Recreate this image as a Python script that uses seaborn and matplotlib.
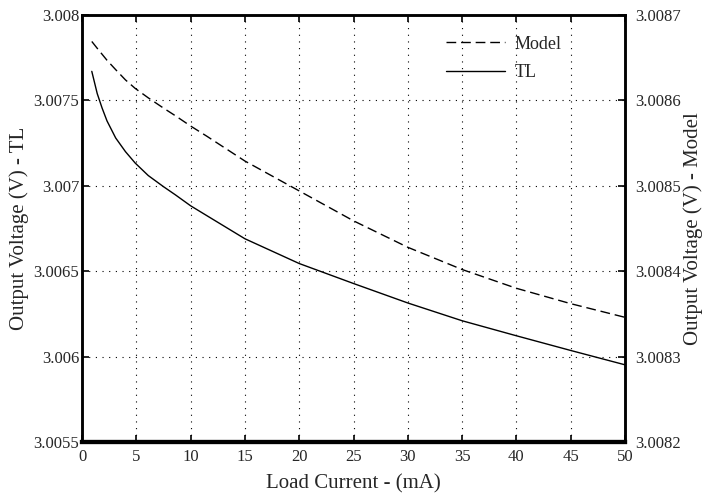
import numpy as np
import pandas as pd
import seaborn as sns
import matplotlib.pyplot as plt
import matplotlib.ticker as mticker

## data
load_current = [0.9, 1.4, 1.85, 2.3, 3.1, 4.0, 4.9, 6.1, 7.5, 8.6, 10, 11.5,
                15, 20, 25, 30, 35, 40, 45, 50]
v_tl = [3.00767, 3.00754, 3.007455, 3.00738, 3.00728, 3.0072, 3.007133, 3.00706,
        3.006995, 3.006947, 3.006883, 3.006825, 3.00669, 3.006545, 3.006428, 3.006314,
        3.00621, 3.006122, 3.006036, 3.005952]
v_model = [3.008669, 3.008661, 3.008654, 3.008647, 3.008636, 3.008624, 3.008614,
           3.008603, 3.008591, 3.008582, 3.00857, 3.008558, 3.008529, 3.008494,
           3.008459, 3.008428, 3.008402, 3.00838, 3.008362, 3.008346]

x_ticks = list(range(0, 51, 5))
left_ticks = [3.0055, 3.006, 3.0065, 3.007, 3.0075, 3.008]
right_ticks = [3.0082, 3.0083, 3.0084, 3.0085, 3.0086, 3.0087]

df = pd.DataFrame({"I": load_current, "TL": v_tl, "Model": v_model})

sns.set_style("ticks")
plt.rcParams["font.family"] = ["Liberation Serif", "DejaVu Serif"]
plt.rcParams["xtick.direction"] = "in"
plt.rcParams["ytick.direction"] = "in"

fig = plt.figure(figsize=(7.04, 4.98), dpi=100)
ax = fig.add_axes([0.1165, 0.1124, 0.7713, 0.8575])
ax2 = ax.twinx()

sns.lineplot(data=df, x="I", y="TL", ax=ax, color="black", lw=1.0, label="TL", legend=False)
sns.lineplot(data=df, x="I", y="Model", ax=ax2, color="black", lw=1.0, label="Model",
             legend=False)
ax2.lines[0].set_dashes((7, 3.5))

ax.set_xlim(0, 50)
ax.set_ylim(3.0055, 3.008)
ax2.set_ylim(3.0082, 3.0087)
ax.set_xticks(x_ticks)
ax.set_yticks(left_ticks)
ax2.set_yticks(right_ticks)
fmt = mticker.FuncFormatter(lambda v, p: "%g" % round(v, 6))
ax.yaxis.set_major_formatter(fmt)
ax2.yaxis.set_major_formatter(fmt)

ax.grid(True, color="black", linestyle=(0, (1, 5)), linewidth=0.8)
ax.tick_params(axis="both", labelsize=12, length=5, width=1.2, top=True, color="black")
ax2.tick_params(axis="y", labelsize=12, length=5, width=1.2, color="black")
ax.tick_params(axis="y", pad=2)
ax.tick_params(axis="x", pad=5)
ax2.tick_params(axis="y", pad=7)

for a in (ax, ax2):
    for s in a.spines.values():
        s.set_linewidth(1.8)
        s.set_color("black")
    a.spines["bottom"].set_linewidth(3)

ax.set_xlabel("Load Current - (mA)", fontsize=15, labelpad=7)
ax.set_ylabel("Output Voltage (V) - TL", fontsize=15, labelpad=3)
ax2.set_ylabel("Output Voltage (V) - Model", fontsize=15, labelpad=2)

handles = [ax2.lines[0], ax.lines[0]]
ax.legend(handles, ["Model", "TL"], loc="upper left", bbox_to_anchor=(0.64, 0.99),
          frameon=False, fontsize=13, handlelength=3.3, handletextpad=0.5,
          labelspacing=0.65)

fig.savefig("out.png", dpi=100)
